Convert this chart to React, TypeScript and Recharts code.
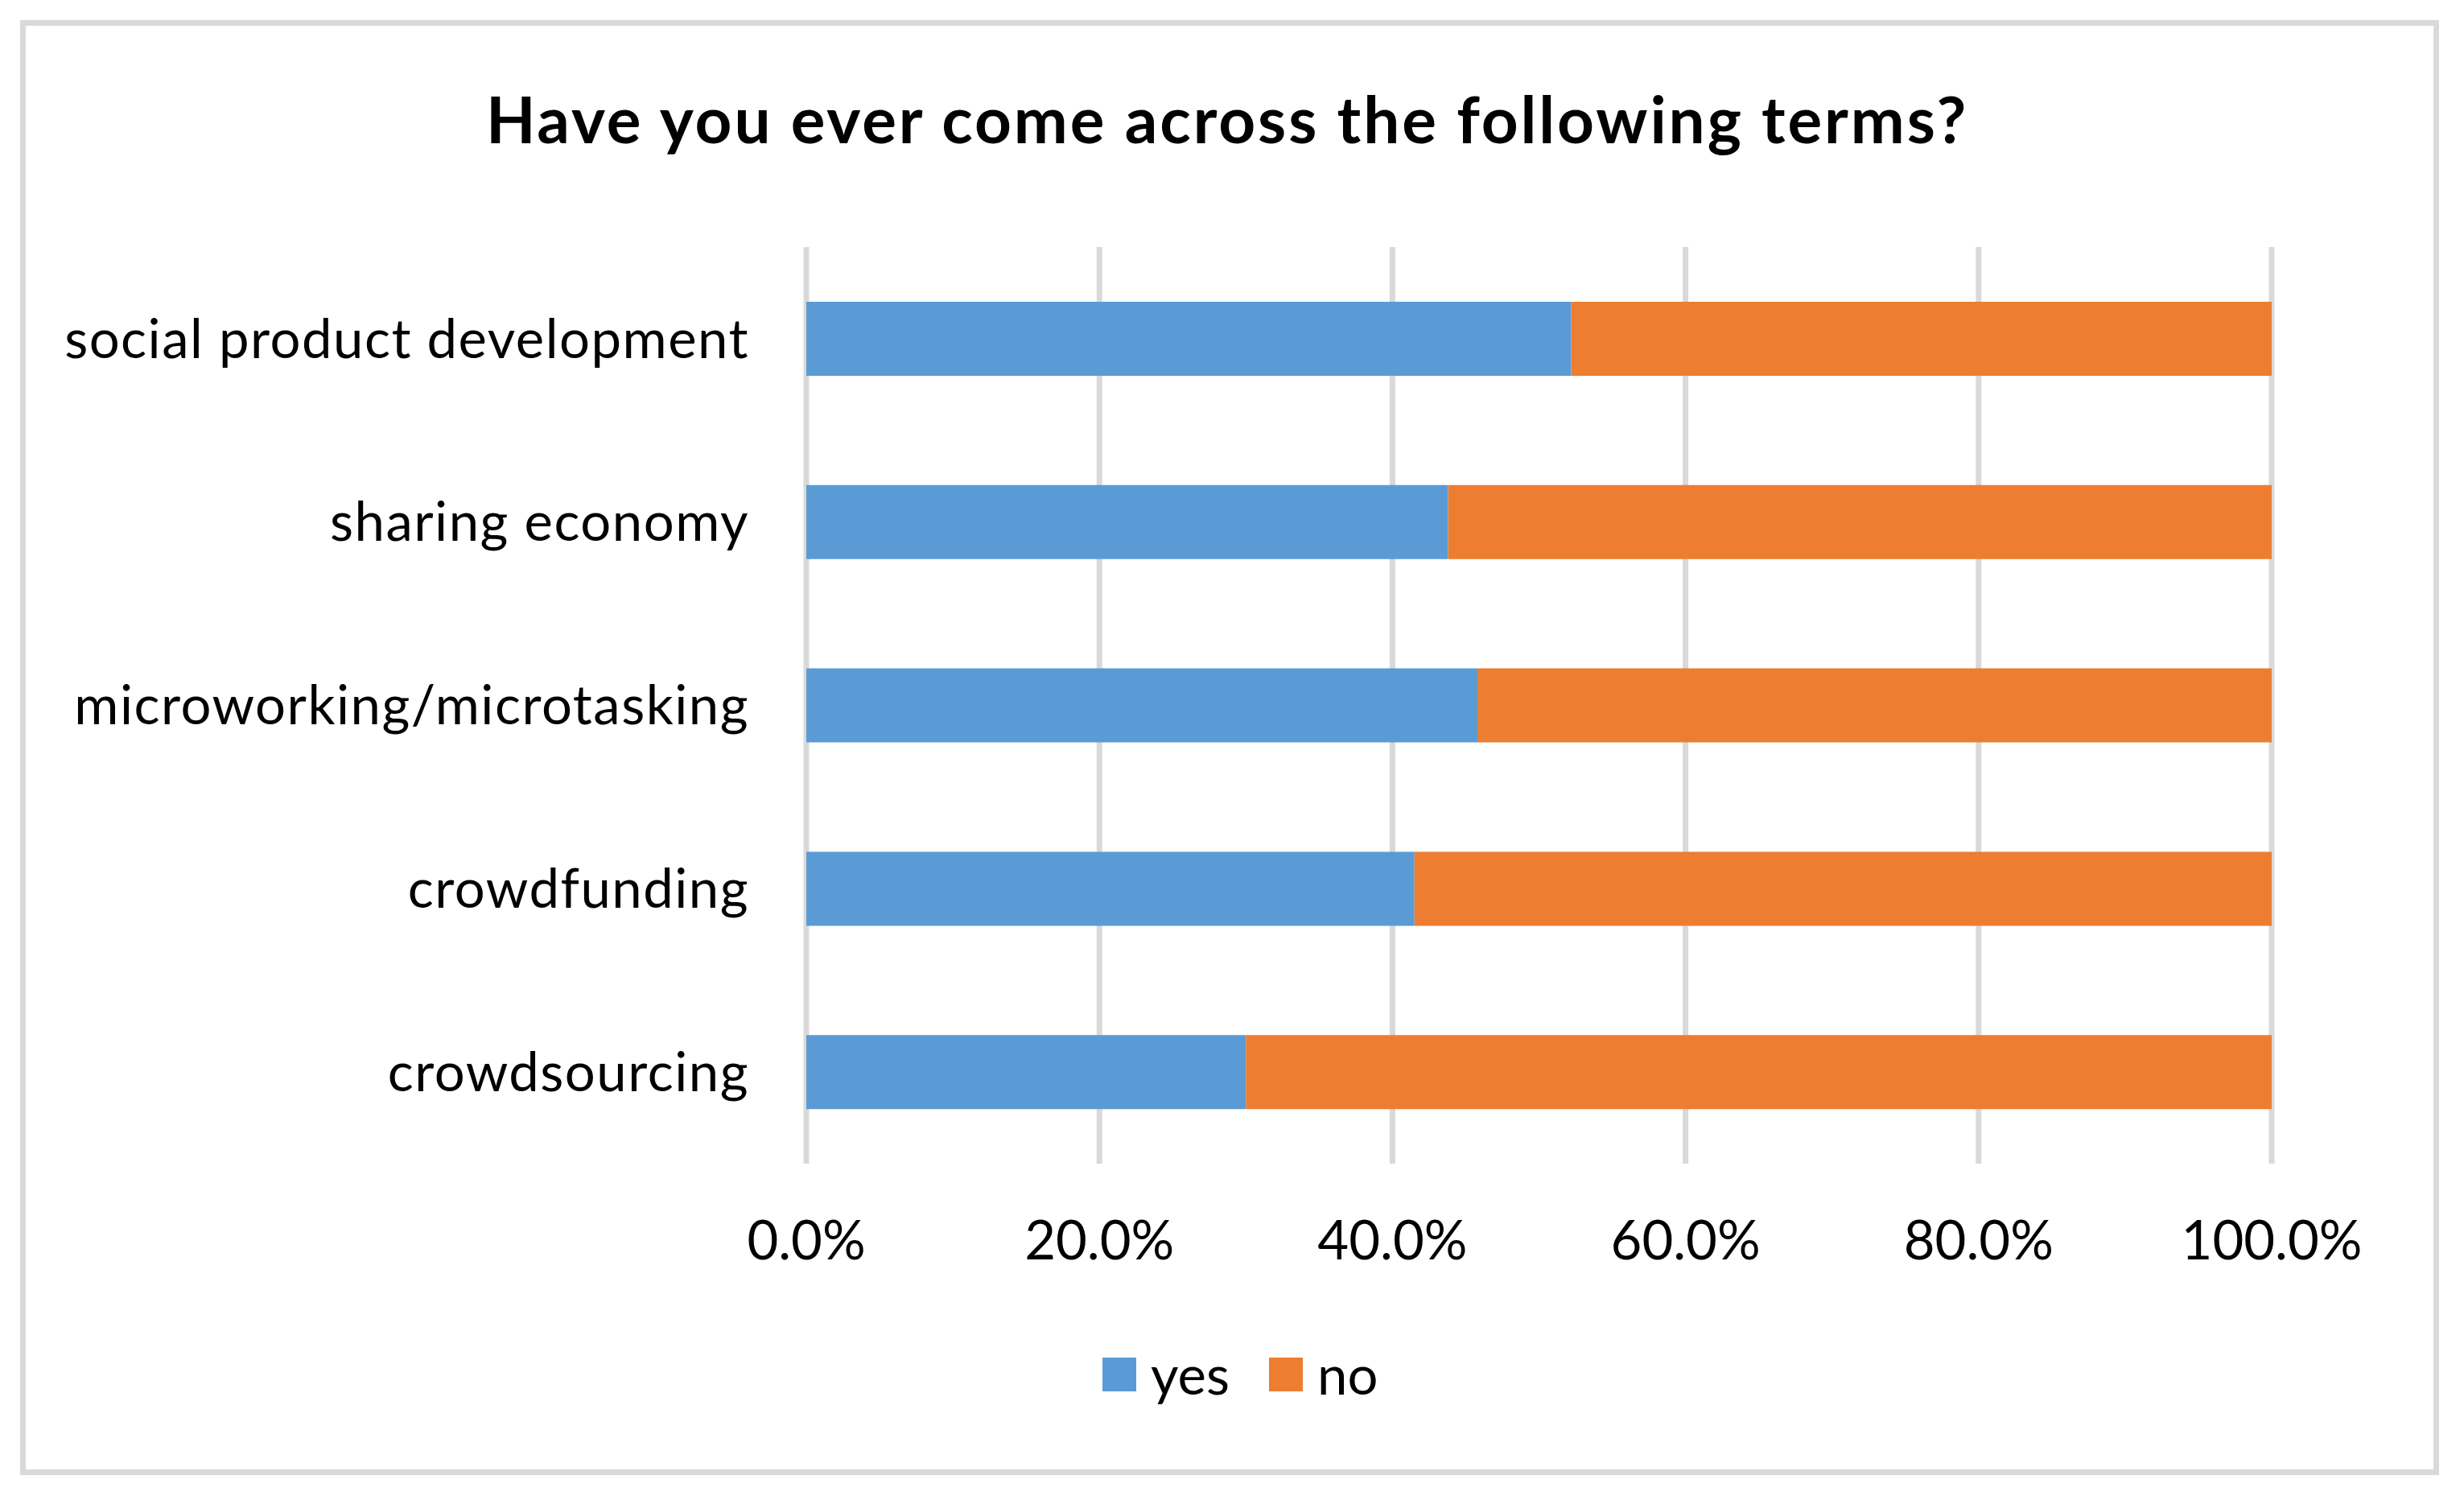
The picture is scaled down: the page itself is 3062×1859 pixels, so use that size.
import { Bar, BarChart, CartesianGrid, Legend, XAxis, YAxis } from "recharts";

const terms = [
  "social product development",
  "sharing economy",
  "microworking/microtasking",
  "crowdfunding",
  "crowdsourcing",
];
const yesShare = [52.2, 43.8, 45.8, 41.5, 30.0];
const noShare = [47.8, 56.2, 54.2, 58.5, 70.0];
const percentTicks = [0, 20, 40, 60, 80, 100];

const data = terms.map((term, i) => ({ term, yes: yesShare[i], no: noShare[i] }));

const FONT = "Lato, 'Open Sans', sans-serif";
const BLUE = "#5b9bd5";
const ORANGE = "#ed7d31";
const GRID = "#d9d9d9";

function LegendContent() {
  const items = [
    { label: "yes", color: BLUE },
    { label: "no", color: ORANGE },
  ];
  return (
    <div style={{ display: "flex", alignItems: "center", fontFamily: FONT, fontSize: 67, color: "#000" }}>
      {items.map((it, i) => (
        <div key={it.label} style={{ display: "flex", alignItems: "center", marginRight: i === 0 ? 49 : 0 }}>
          <div style={{ width: 42, height: 42, background: it.color, marginRight: 18 }} />
          <span style={{ lineHeight: 1 }}>{it.label}</span>
        </div>
      ))}
    </div>
  );
}

export default function App() {
  return (
    <div style={{ position: "absolute", left: 0, top: 0, width: 3062, height: 1859, background: "#fff" }}>
      <div
        style={{
          position: "absolute",
          left: 25,
          top: 25,
          width: 3006,
          height: 1808,
          boxSizing: "border-box",
          border: `7px solid ${GRID}`,
        }}
      />
      <div
        style={{
          position: "absolute",
          left: 0,
          top: 107,
          width: 3050,
          textAlign: "center",
          fontFamily: FONT,
          fontWeight: 700,
          fontSize: 80,
          letterSpacing: 2.9,
          lineHeight: 1,
          color: "#000",
        }}
      >
        Have you ever come across the following terms?
      </div>
      <div style={{ position: "absolute", left: 0, top: 0 }}>
        <BarChart
          width={3062}
          height={1859}
          data={data}
          layout="vertical"
          margin={{ top: 307, right: 239, bottom: 383, left: 102 }}
          barSize={92}
        >
          <CartesianGrid horizontal={false} stroke={GRID} strokeWidth={7} />
          <XAxis
            type="number"
            domain={[0, 100]}
            ticks={percentTicks}
            tickFormatter={(v: number) => `${v.toFixed(1)}%`}
            axisLine={false}
            tickLine={false}
            tickSize={0}
            tickMargin={71}
            height={30}
            tick={{ fontSize: 67, fill: "#000", fontFamily: FONT }}
            interval={0}
          />
          <YAxis
            type="category"
            dataKey="term"
            width={900}
            axisLine={false}
            tickLine={false}
            tickSize={0}
            tickMargin={71}
            tick={{ fontSize: 67, fill: "#000", fontFamily: FONT, letterSpacing: 1.5 }}
            interval={0}
          />
          <Legend
            layout="horizontal"
            verticalAlign="middle"
            content={<LegendContent />}
            wrapperStyle={{ top: 1674, left: 1370, width: 500, height: 60 }}
          />
          <Bar dataKey="yes" stackId="a" fill={BLUE} isAnimationActive={false} />
          <Bar dataKey="no" stackId="a" fill={ORANGE} isAnimationActive={false} />
        </BarChart>
      </div>
    </div>
  );
}
